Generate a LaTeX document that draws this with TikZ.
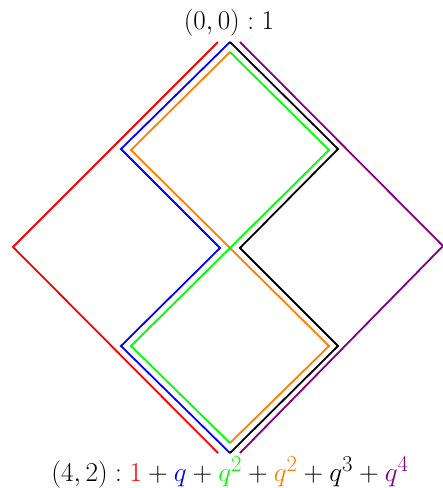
\documentclass[tikz,border=0pt]{standalone}
\usepackage{graphicx}
\begin{document}
\begin{tikzpicture}[x=1pt,y=-1pt,
  pathline/.style={line width=1.8pt, line join=miter},
  lbl/.style={anchor=base, inner sep=0pt, font=\Huge}]
\useasboundingbox (0,0) rectangle (443,488);
% red LLRR
\draw[pathline, red] (218,42) -- (13,247) -- (218,453);
% purple RRLL
\draw[pathline, violet] (240,42) -- (443,246) -- (240,453);
% blue LRLR
\draw[pathline, blue] (230,42) -- (121,149) -- (220,248) -- (121,346) -- (230,453);
% black RLRL
\draw[pathline, black] (230,42) -- (338,149) -- (240,248) -- (338,346) -- (230,453);
% orange LRRL
\draw[pathline, orange] (230,52) -- (131,150) -- (329,346) -- (230,443);
% green RLLR
\draw[pathline, green] (230,52) -- (329,150) -- (131,346) -- (230,443);
\node[lbl] (top) at (229,29) {\scalebox{1.09}{$(0,0):1$}};
\node[lbl] (bot) at (230,481) {\scalebox{1.095}{$(4,2):\textcolor{red}{1}+\textcolor{blue}{q}+\textcolor{green}{q^2}+\textcolor{orange}{q^2}+q^3+\textcolor{violet}{q^4}$}};
\end{tikzpicture}
\end{document}
